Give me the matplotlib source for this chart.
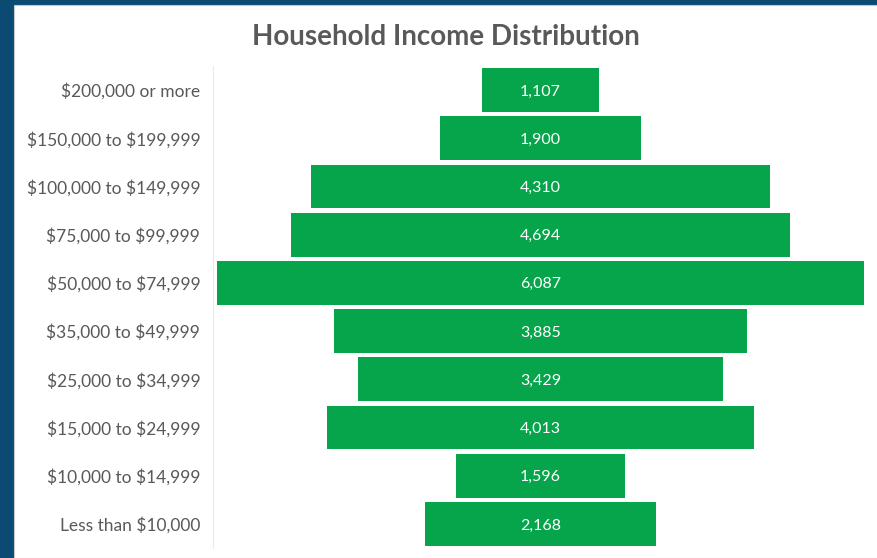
import matplotlib
matplotlib.use("Agg")
import matplotlib.pyplot as plt
from matplotlib.patches import Rectangle

plt.rcParams["text.parse_math"] = False
plt.rcParams["font.family"] = ["Lato", "DejaVu Sans"]

categories = ["Less than $10,000", "$10,000 to $14,999", "$15,000 to $24,999",
              "$25,000 to $34,999", "$35,000 to $49,999", "$50,000 to $74,999",
              "$75,000 to $99,999", "$100,000 to $149,999", "$150,000 to $199,999",
              "$200,000 or more"]
households = [2168, 1596, 4013, 3429, 3885, 6087, 4694, 4310, 1900, 1107]
title = "Household Income Distribution"

W, H = 878, 558
fig = plt.figure(figsize=(W / 100, H / 100), dpi=100)
fig.patch.set_facecolor("#0B4A72")
bg = Rectangle((14 / W, 0), 1 - 14 / W, 1 - 5 / H, transform=fig.transFigure,
               facecolor="white", edgecolor="#c8c8c8", linewidth=0.8, zorder=-10)
fig.patches.append(bg)

green = "#07A54B"
gray = "#595959"

left, right = 217 / W, 864 / W
top, bottom = 1 - 65.9 / H, 1 - 548.1 / H
ax = fig.add_axes([left, bottom, right - left, top - bottom])
ax.set_facecolor("none")
ax.set_zorder(5)

ypos = list(range(len(categories)))
lefts = [-v / 2 for v in households]
ax.barh(ypos, households, left=lefts, height=0.91, color=green)
for y, v in zip(ypos, households):
    ax.text(0, y, f"{v:,}", ha="center", va="center_baseline", color="white",
            fontsize=11.5)

m = max(households) / 2
ax.set_xlim(-m, m)
ax.set_ylim(-0.5, len(categories) - 0.5)
ax.set_yticks(ypos)
ax.set_yticklabels(categories)
ax.tick_params(axis="y", length=0, pad=9, labelcolor=gray, labelsize=12.5)
ax.set_xticks([])
for s in ["top", "right", "bottom"]:
    ax.spines[s].set_visible(False)
ax.spines["left"].set_color("#ececec")
ax.spines["left"].set_position(("outward", 3))

fig.text(446 / W, 1 - 37 / H, title, ha="center", va="center", fontsize=20,
         fontweight="bold", color=gray, zorder=6)

fig.savefig("out.png", dpi=100, facecolor=fig.get_facecolor())
